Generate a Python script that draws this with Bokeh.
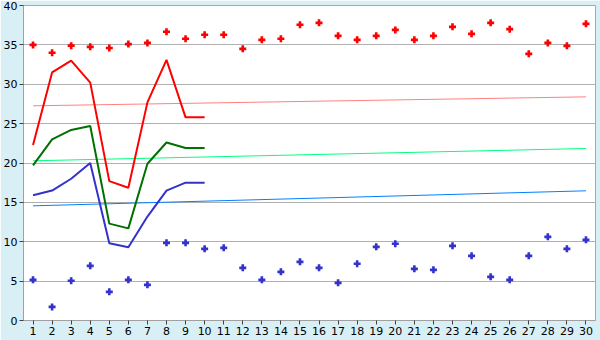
from bokeh.plotting import figure
from bokeh.models import FixedTicker, Range1d
from bokeh.embed import file_html
from bokeh.resources import INLINE

days = list(range(1, 31))
line_days = list(range(1, 11))

red_line = [22.3, 31.5, 33.0, 30.2, 17.7, 16.85, 27.7, 33.1, 25.8, 25.8]
green_line = [19.7, 23.0, 24.2, 24.7, 12.3, 11.7, 19.9, 22.6, 21.9, 21.9]
blue_line = [15.9, 16.5, 18.0, 20.0, 9.8, 9.3, 13.2, 16.5, 17.5, 17.5]

red_points = [35.0, 34.0, 34.9, 34.75, 34.6, 35.1, 35.25, 36.66, 35.77, 36.28,
              36.28, 34.5, 35.64, 35.77, 37.55, 37.8, 36.15, 35.64, 36.15, 36.9,
              35.64, 36.15, 37.29, 36.4, 37.8, 37.0, 33.86, 35.25, 34.88, 37.67]
blue_points = [5.16, 1.73, 5.04, 6.94, 3.64, 5.16, 4.53, 9.86, 9.86, 9.1,
               9.23, 6.69, 5.16, 6.18, 7.45, 6.69, 4.78, 7.2, 9.35, 9.74,
               6.56, 6.43, 9.48, 8.21, 5.54, 5.16, 8.21, 10.62, 9.1, 10.24]

trend_days = [1, 30]
red_trend = [27.26, 28.4]
green_trend = [20.28, 21.84]
blue_trend = [14.56, 16.47]

y_ticks = [0, 5, 10, 15, 20, 25, 30, 35, 40]

p = figure(width=600, height=340, output_backend="svg", toolbar_location=None,
           x_range=Range1d(0.5, 30.5), y_range=Range1d(0, 40),
           min_border_left=20, min_border_right=5, min_border_top=5, min_border_bottom=20)

p.background_fill_color = "white"
p.border_fill_color = "#D9EFF6"
p.outline_line_color = "#A8A8A8"
p.outline_line_width = 1

p.xgrid.visible = False
p.ygrid.ticker = FixedTicker(ticks=y_ticks)
p.ygrid.grid_line_color = "#B0B0B0"
p.ygrid.grid_line_width = 1

for ax in (p.xaxis, p.yaxis):
    ax.axis_line_color = "#A0A0A0"
    ax.major_tick_line_color = "#404040"
    ax.minor_tick_line_color = None
    ax.major_tick_in = 0
    ax.major_tick_out = 4
    ax.major_label_text_font = "DejaVu Sans"
    ax.major_label_text_font_size = "11px"
    ax.major_label_text_color = "black"
    ax.major_label_standoff = 2

p.xaxis.ticker = FixedTicker(ticks=days)
p.yaxis.ticker = FixedTicker(ticks=y_ticks)

p.line(trend_days, red_trend, line_color="#FF8080", line_width=1)
p.line(trend_days, green_trend, line_color="#00FF80", line_width=1)
p.line(trend_days, blue_trend, line_color="#0080FF", line_width=1)

p.line(line_days, red_line, line_color="#FF0000", line_width=2)
p.line(line_days, green_line, line_color="#007000", line_width=2)
p.line(line_days, blue_line, line_color="#3333CC", line_width=2)

p.scatter(days, red_points, marker="plus", size=7, fill_color="#FF0000", line_color=None)
p.scatter(days, blue_points, marker="plus", size=7, fill_color="#3333CC", line_color=None)

open("out.html", "w").write(file_html(p, INLINE))
